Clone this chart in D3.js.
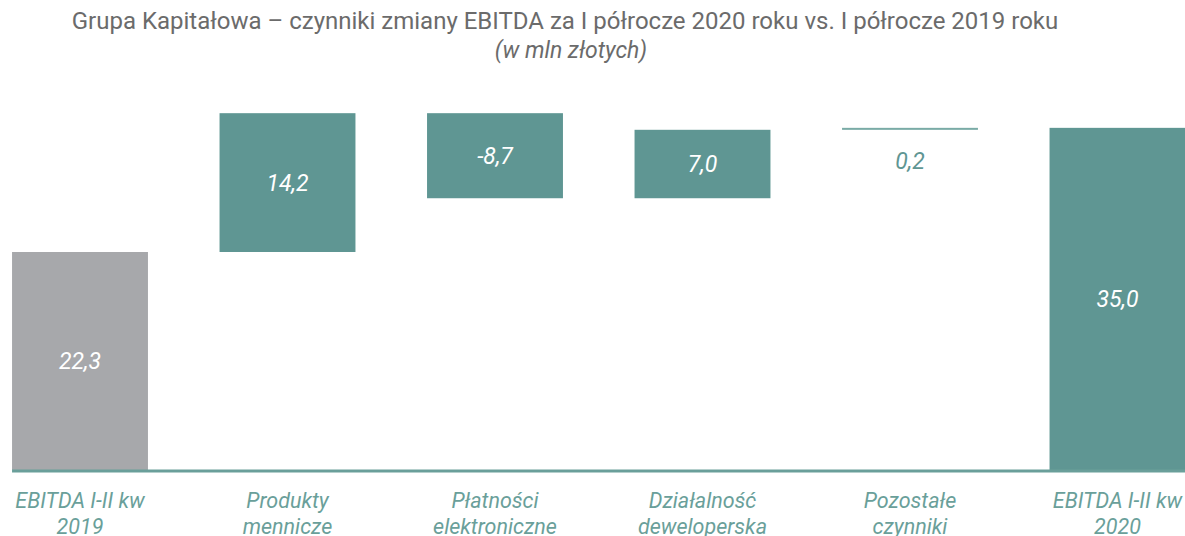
<!DOCTYPE html>
<html>
<head>
<meta charset="utf-8">
<script src="https://cdn.jsdelivr.net/npm/d3@7"></script>
<style>
  body { margin: 0; background: #fff; }
  svg { display: block; font-family: Roboto, "Noto Sans", sans-serif; }
</style>
</head>
<body>
<div id="chart"></div>
<script>
const categories = ["EBITDA I-II kw 2019", "Produkty mennicze", "Płatności elektroniczne", "Działalność deweloperska", "Pozostałe czynniki", "EBITDA I-II kw 2020"];
const labelLines = [["EBITDA I-II kw", "2019"], ["Produkty", "mennicze"], ["Płatności", "elektroniczne"], ["Działalność", "deweloperska"], ["Pozostałe", "czynniki"], ["EBITDA I-II kw", "2020"]];
const values = [22.3, 14.2, -8.7, 7.0, 0.2, 35.0];
const kinds = ["start", "delta", "delta", "delta", "delta", "total"];
const valueLabels = ["22,3", "14,2", "-8,7", "7,0", "0,2", "35,0"];

const width = 1185;
const height = 536;
const teal = "#5f9693";
const grey = "#a7a8ab";
const baseY = 470;

const svg = d3.select("#chart").append("svg").attr("width", width).attr("height", height);

// running totals for the waterfall
let run = 0;
const bars = categories.map((c, i) => {
    let y0, y1;
    if (kinds[i] === "delta") { y0 = run; y1 = run + values[i]; run = y1; }
    else { y0 = 0; y1 = values[i]; run = values[i]; }
    return { cat: c, lines: labelLines[i], kind: kinds[i], y0, y1, label: valueLabels[i], value: values[i] };
});

const x = d3.scaleBand()
    .domain(categories)
    .range([-23.75, 1221.25])
    .paddingInner(0.345)
    .paddingOuter(0.1725);

const y = d3.scaleLinear()
    .domain([0, 22.3])
    .range([baseY, 252]);

svg.append("text")
    .attr("x", 565).attr("y", 29)
    .attr("text-anchor", "middle")
    .attr("fill", "#6b6b6b")
    .style("font-size", "24px")
    .text("Grupa Kapitałowa – czynniki zmiany EBITDA za I półrocze 2020 roku vs. I półrocze 2019 roku");

svg.append("text")
    .attr("x", 571).attr("y", 58)
    .attr("text-anchor", "middle")
    .attr("fill", "#6b6b6b")
    .style("font-size", "23px")
    .style("font-style", "italic")
    .text("(w mln złotych)");

svg.selectAll("rect.bar")
    .data(bars)
    .enter()
    .append("rect")
    .attr("class", "bar")
    .attr("x", d => x(d.cat))
    .attr("width", x.bandwidth())
    .attr("y", d => y(Math.max(d.y0, d.y1)))
    .attr("height", d => Math.max(2, Math.abs(y(d.y0) - y(d.y1))))
    .attr("fill", d => d.kind === "start" ? grey : (Math.abs(d.value) < 1 ? "#7aaba6" : teal));

// value labels
svg.selectAll("text.val")
    .data(bars)
    .enter()
    .append("text")
    .attr("class", "val")
    .attr("x", d => x(d.cat) + x.bandwidth() / 2)
    .attr("y", d => {
        const top = y(Math.max(d.y0, d.y1));
        const bot = y(Math.min(d.y0, d.y1));
        if (bot - top < 20) return bot + 39;
        return (top + bot) / 2 + 8;
    })
    .attr("text-anchor", "middle")
    .attr("fill", d => {
        const h = Math.abs(y(d.y0) - y(d.y1));
        return h < 20 ? teal : "#ffffff";
    })
    .style("font-size", "23px")
    .style("font-style", "italic")
    .text(d => d.label);

// baseline
svg.append("line")
    .attr("x1", x(categories[0]))
    .attr("x2", width)
    .attr("y1", baseY + 1)
    .attr("y2", baseY + 1)
    .attr("stroke", "#6a9f9a")
    .attr("stroke-width", 3);

// category labels
const lab = svg.selectAll("text.cat")
    .data(bars)
    .enter()
    .append("text")
    .attr("class", "cat")
    .attr("text-anchor", "middle")
    .attr("fill", "#6a9f9a")
    .style("font-size", "21.5px")
    .style("font-style", "italic");

lab.each(function(d) {
    const t = d3.select(this);
    d.lines.forEach((ln, j) => {
        t.append("tspan")
            .attr("x", x(d.cat) + x.bandwidth() / 2)
            .attr("y", 508 + j * 26)
            .text(ln);
    });
});
</script>
</body>
</html>
